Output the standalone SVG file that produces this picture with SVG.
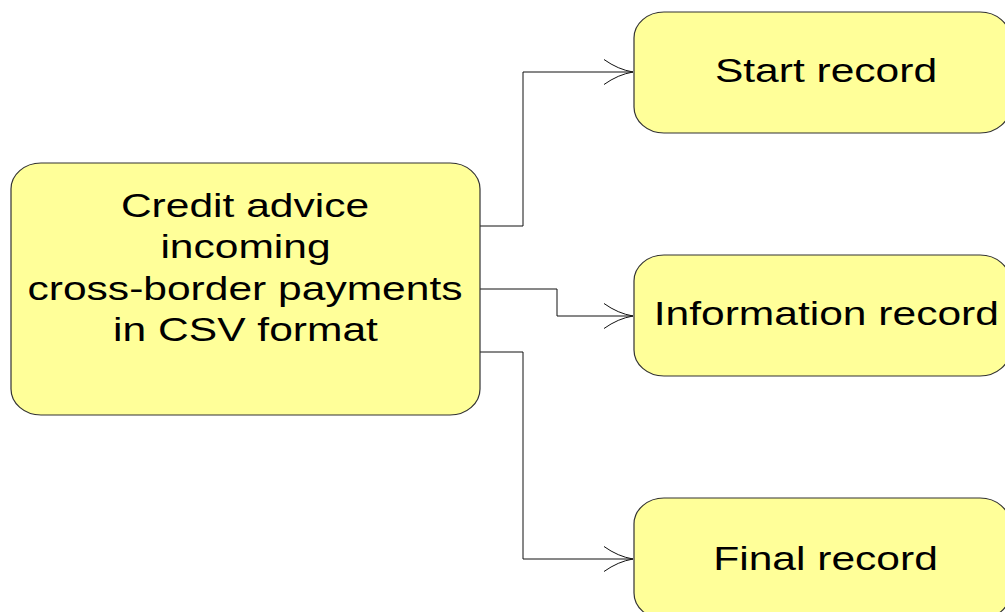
<svg xmlns="http://www.w3.org/2000/svg" width="1005" height="612" viewBox="0 0 1005 612">
<style>
.box{fill:#ffff99;stroke:#333;stroke-width:1.2}
.t{font-family:"Liberation Sans",Arial,sans-serif;font-size:33.5px;fill:#000;text-anchor:middle}
.c{fill:none;stroke:#111;stroke-width:1}
</style>
<defs>
<marker id="arr" markerUnits="userSpaceOnUse" viewBox="0 0 30 26" markerWidth="30" markerHeight="26" refX="29" refY="12.5" orient="auto" overflow="visible">
<path d="M0,0 Q14,10 29,12.5 Q14,15 0,25" fill="none" stroke="#111" stroke-width="1"/>
</marker>
</defs>
<rect width="1005" height="612" fill="#fff"/>
<g id="connectors">
<path class="c" d="M480,226 H523 V72 H633" marker-end="url(#arr)"/>
<path class="c" d="M480,289 H557 V316 H633" marker-end="url(#arr)"/>
<path class="c" d="M480,352 H523 V559 H633" marker-end="url(#arr)"/>
</g>
<g id="source">
<rect class="box" x="11" y="163" width="469" height="252" rx="30" ry="26"/>
<text class="t" transform="translate(245,217) scale(1.27,1)">Credit advice</text>
<text class="t" transform="translate(245.5,258) scale(1.27,1)">incoming</text>
<text class="t" transform="translate(245,300) scale(1.27,1)">cross-border payments</text>
<text class="t" transform="translate(245.5,341) scale(1.27,1)">in CSV format</text>
</g>
<g id="start">
<rect class="box" x="634" y="12" width="376" height="121" rx="30" ry="26"/>
<text class="t" transform="translate(826,82) scale(1.27,1)">Start record</text>
</g>
<g id="information">
<rect class="box" x="634" y="255" width="376" height="121" rx="30" ry="26"/>
<text class="t" transform="translate(826.3,325) scale(1.27,1)">Information record</text>
</g>
<g id="final">
<rect class="box" x="634" y="498" width="376" height="121" rx="30" ry="26"/>
<text class="t" transform="translate(825.5,570) scale(1.27,1)">Final record</text>
</g>
</svg>
